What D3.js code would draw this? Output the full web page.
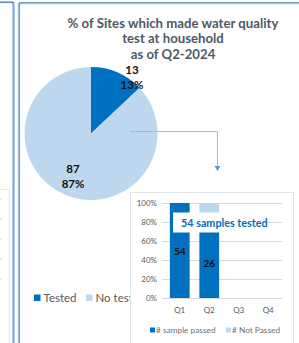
<!DOCTYPE html>
<html><head><meta charset="utf-8">
<script src="https://cdn.jsdelivr.net/npm/d3@7"></script>
<style>html,body{margin:0;padding:0;background:#fff;overflow:hidden}</style>
</head><body>
<svg id="c" width="299" height="343"></svg>
<script>
// ---- data ----
const titleLines = ["% of Sites which made water quality", "test at household", "as of Q2-2024"];
const pieLabels = ["Tested", "No test"];
const pieValues = [13, 87];
const quarters = ["Q1", "Q2", "Q3", "Q4"];
const samplePassed = [54, 26, 0, 0];
const notPassed = [0, 9, 0, 0];
const pctTicks = [0, 0.2, 0.4, 0.6, 0.8, 1];
const barSeries = ["# sample passed", "# Not Passed"];
const calloutText = "54 samples tested";

const dark = "#0070c0", light = "#bdd7ee", gray = "#595959";
const font = "Lato, 'Open Sans', sans-serif";
const svg = d3.select("#c").style("font-family", font);

// ---- frames ----
const fr = svg.append("g");
fr.append("rect").attr("x", -2).attr("y", 189.5).attr("width", 11.5).attr("height", 200)
  .attr("fill", "#fff").attr("stroke", "#e3e6ea");
[199, 219, 239, 259, 279].forEach(t => fr.append("line").attr("x1", 0).attr("x2", 1.5)
  .attr("y1", t).attr("y2", t).attr("stroke", "#c8c8c8"));
fr.append("path").attr("d", "M0,1.5 H12.8 V343").attr("fill", "none").attr("stroke", "#9dc3e6").attr("stroke-width", 1.2);
fr.append("path").attr("d", "M0,2.6 H13.9 V343").attr("fill", "none").attr("stroke", "#2e75b6").attr("stroke-width", 0.9);
fr.append("path").attr("d", "M18.6,343 V3.5 H299").attr("fill", "none").attr("stroke", "#9dc3e6").attr("stroke-width", 1.6);
fr.append("path").attr("d", "M19.6,343 V2.6 H299").attr("fill", "none").attr("stroke", "#2e75b6").attr("stroke-width", 0.7);

// ---- title ----
const tt = svg.append("text").attr("text-anchor", "middle").attr("font-weight", "bold")
  .attr("font-size", 13.2).attr("fill", "#4d5a66");
titleLines.forEach((l, i) => tt.append("tspan").attr("x", 173).attr("y", 27.5 + i * 15.5).text(l));

// ---- pie ----
const cx = 91, cy = 133.5, R = 66.5;
const pie = d3.pie().sort(null).value(d => d)(pieValues);
const arc = d3.arc().innerRadius(0).outerRadius(R);
const pg = svg.append("g").attr("transform", `translate(${cx},${cy})`);
pg.selectAll("path").data(pie).join("path").attr("d", arc)
  .attr("fill", (d, i) => i === 0 ? dark : light);
const labelPos = [[41, -56], [-18, 43]];
pie.forEach((d, i) => {
  const t = pg.append("text").attr("text-anchor", "middle").attr("font-weight", "bold")
    .attr("font-size", 11.5).attr("fill", "#111");
  t.append("tspan").attr("x", labelPos[i][0]).attr("y", labelPos[i][1] - 4).text(d.data);
  t.append("tspan").attr("x", labelPos[i][0]).attr("y", labelPos[i][1] + 11)
    .text(Math.round(d.data / d3.sum(pieValues) * 100) + "%");
});

// pie legend
const pl = svg.append("g");
pieLabels.forEach((l, i) => {
  const x0 = i === 0 ? 34 : 86;
  pl.append("rect").attr("x", x0).attr("y", 294.5).attr("width", 6.5).attr("height", 6.5)
    .attr("fill", i === 0 ? dark : light);
  pl.append("text").attr("x", x0 + 9.5).attr("y", 302).attr("font-size", 11.5)
    .attr("fill", gray).text(l);
});

// connector arrow
svg.append("path").attr("d", "M130,131.5 H217.5 V167").attr("fill", "none")
  .attr("stroke", "#9dbde0").attr("stroke-width", 1);
svg.append("path").attr("d", "M214.5,166 L220.5,166 L217.5,171 Z").attr("fill", "#5b9bd5");

// ---- bar chart ----
svg.append("rect").attr("x", 130.5).attr("y", 192.5).attr("width", 163).attr("height", 200)
  .attr("fill", "#fff").attr("stroke", "#dfe4ea");

const x = d3.scaleBand().domain(quarters).range([165, 283]).paddingInner(0.33).paddingOuter(0.165);
const y = d3.scaleLinear().domain([0, 1]).range([298, 203]);
const bg = svg.append("g");
bg.selectAll("line.g").data(pctTicks).join("line").attr("class", "g")
  .attr("x1", 162).attr("x2", 282).attr("y1", d => y(d) + 0.5).attr("y2", d => y(d) + 0.5)
  .attr("stroke", "#d9d9d9");
bg.selectAll("text.yl").data(pctTicks).join("text").attr("class", "yl")
  .attr("x", 157).attr("y", d => y(d) + 3).attr("text-anchor", "end")
  .attr("font-size", 8).attr("fill", gray).text(d => d3.format(".0%")(d));
bg.selectAll("text.xl").data(quarters).join("text").attr("class", "xl")
  .attr("x", d => x(d) + x.bandwidth() / 2).attr("y", 313).attr("text-anchor", "middle")
  .attr("font-size", 8).attr("fill", gray).text(d => d);

const rows = quarters.map((q, i) => {
  const tot = samplePassed[i] + notPassed[i];
  return { q, p: tot ? samplePassed[i] / tot : 0, n: tot ? notPassed[i] / tot : 0, pv: samplePassed[i] };
});
const stack = d3.stack().keys(["p", "n"])(rows);
stack.forEach((s, si) => {
  bg.selectAll("rect.s" + si).data(s).join("rect").attr("class", "s" + si)
    .attr("x", d => x(d.data.q)).attr("width", x.bandwidth())
    .attr("y", d => y(d[1])).attr("height", d => y(d[0]) - y(d[1]))
    .attr("fill", si === 0 ? dark : light);
});
bg.selectAll("text.v").data(rows.filter(r => r.pv > 0)).join("text").attr("class", "v")
  .attr("x", d => x(d.q) + x.bandwidth() / 2).attr("y", d => y(d.p / 2) + 4)
  .attr("text-anchor", "middle").attr("font-weight", "bold").attr("font-size", 10)
  .attr("fill", "#111").text(d => d.pv);

// callout box
svg.append("rect").attr("x", 173).attr("y", 212.5).attr("width", 90).attr("height", 20).attr("fill", "#fff");
svg.append("text").attr("x", 181).attr("y", 226.5).attr("font-weight", "bold").attr("font-size", 10.8)
  .attr("fill", dark).text(calloutText);

// bar legend
barSeries.forEach((l, i) => {
  const x0 = i === 0 ? 150 : 226;
  svg.append("rect").attr("x", x0).attr("y", 327.5).attr("width", 5).attr("height", 5)
    .attr("fill", i === 0 ? dark : light);
  svg.append("text").attr("x", x0 + 6).attr("y", 333).attr("font-size", 8.3)
    .attr("fill", "#6f6f6f").text(l);
});
</script>
</body></html>
